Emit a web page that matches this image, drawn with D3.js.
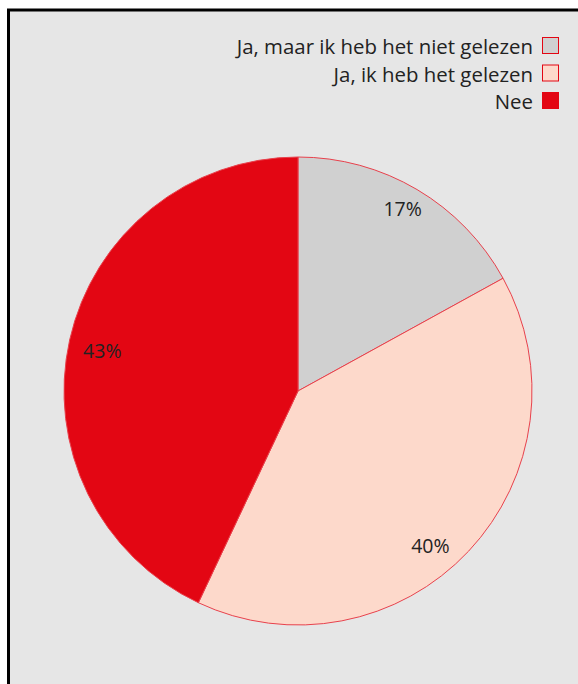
<!DOCTYPE html>
<html>
  <head>
    <style>
      body { margin: 0; background: #fff; }
      svg text { font-family: "Open Sans", sans-serif; fill: #222; }
    </style>
  </head>
  <body>
    <svg width="578" height="684"></svg>
    <script src="https://d3js.org/d3.v7.min.js"></script>
    <script>

    // data
    var categories = ["Ja, maar ik heb het niet gelezen", "Ja, ik heb het gelezen", "Nee"];
    var values = [17, 40, 43];
    var colors = ["#d0d0d0", "#fdd9cb", "#e30613"];

    var svg = d3.select("svg");

    // frame (cut off on the right and bottom)
    svg.append("rect")
        .attr("x", 8.5).attr("y", 10)
        .attr("width", 600).attr("height", 700)
        .attr("fill", "#e6e6e6")
        .attr("stroke", "#000")
        .attr("stroke-width", 3);

    var cx = 298, cy = 391, radius = 234;

    var pie = d3.pie().sort(null).value(function(d) { return d; });
    var arcs = pie(values);

    var arc = d3.arc().innerRadius(0).outerRadius(radius);
    var labelArc = d3.arc().innerRadius(radius * 0.87).outerRadius(radius * 0.87);

    var g = svg.append("g")
        .attr("transform", "translate(" + cx + "," + cy + ")");

    g.selectAll("path")
        .data(arcs)
      .enter().append("path")
        .attr("d", arc)
        .attr("fill", function(d, i) { return colors[i]; })
        .attr("stroke", "#e8414c")
        .attr("stroke-width", 1);

    // label offsets to match the picture
    var labelShift = [[1, -7], [-16, 16], [3, 5]];

    g.selectAll("text.pct")
        .data(arcs)
      .enter().append("text")
        .attr("class", "pct")
        .attr("transform", function(d, i) {
          var c = labelArc.centroid(d);
          return "translate(" + (c[0] + labelShift[i][0]) + "," + (c[1] + labelShift[i][1]) + ")";
        })
        .attr("text-anchor", "middle")
        .attr("dy", "0.35em")
        .style("font-size", "19.5px")
        .text(function(d) { return d.data + "%"; });

    // legend, right aligned
    var legend = svg.append("g");
    var rows = legend.selectAll("g")
        .data(categories)
      .enter().append("g")
        .attr("transform", function(d, i) { return "translate(0," + (37 + i * 27.5) + ")"; });

    rows.append("rect")
        .attr("x", 542.5).attr("y", 0.5)
        .attr("width", 16).attr("height", 16)
        .attr("fill", function(d, i) { return colors[i]; })
        .attr("stroke", "#e30613")
        .attr("stroke-width", 1);

    rows.append("text")
        .attr("x", 533)
        .attr("y", 17)
        .attr("text-anchor", "end")
        .style("font-size", "20.4px")
        .text(function(d) { return d; });

    </script>
  </body>
</html>
